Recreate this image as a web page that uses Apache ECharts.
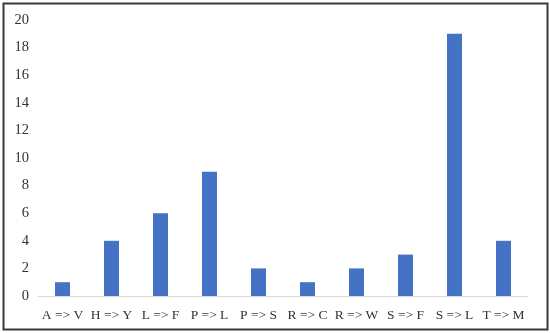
<!DOCTYPE html>
<html>
<head>
<meta charset="utf-8">
<script src="https://cdn.jsdelivr.net/npm/echarts@6/dist/echarts.min.js"></script>
<style>
  html, body { margin: 0; padding: 0; background: #fff; }
  #main { width: 550px; height: 333px; }
</style>
</head>
<body>
<div id="main"></div>
<script>
// 替换类别
var categories = ["A => V", "H => Y", "L => F", "P => L", "P => S", "R => C", "R => W", "S => F", "S => L", "T => M"];
// 计数
var counts = [1, 4, 6, 9, 2, 1, 2, 3, 19, 4];

var myChart = echarts.init(document.getElementById("main"));
myChart.setOption({
  animation: false,
  textStyle: { fontFamily: "Liberation Serif" },
  graphic: [
    {
      type: "rect",
      shape: { x: 3.5, y: 3.5, width: 544, height: 326 },
      style: { fill: null, stroke: "#3a3a3a", lineWidth: 2 },
      silent: true
    }
  ],
  grid: { left: 38, right: 22, top: 20, bottom: 37 },
  xAxis: {
    type: "category",
    data: categories,
    axisTick: { show: false },
    axisLine: { lineStyle: { color: "#D9D9D9", width: 1 } },
    axisLabel: { color: "#333", fontSize: 13.5, margin: 12, interval: 0 }
  },
  yAxis: {
    type: "value",
    min: 0,
    max: 20,
    interval: 2,
    splitLine: { show: false },
    axisLine: { show: false },
    axisTick: { show: false },
    axisLabel: { color: "#333", fontSize: 14.5, margin: 9 }
  },
  series: [
    {
      type: "bar",
      data: counts,
      barWidth: 15,
      itemStyle: { color: "#4472C4" }
    }
  ]
});
</script>
</body>
</html>
